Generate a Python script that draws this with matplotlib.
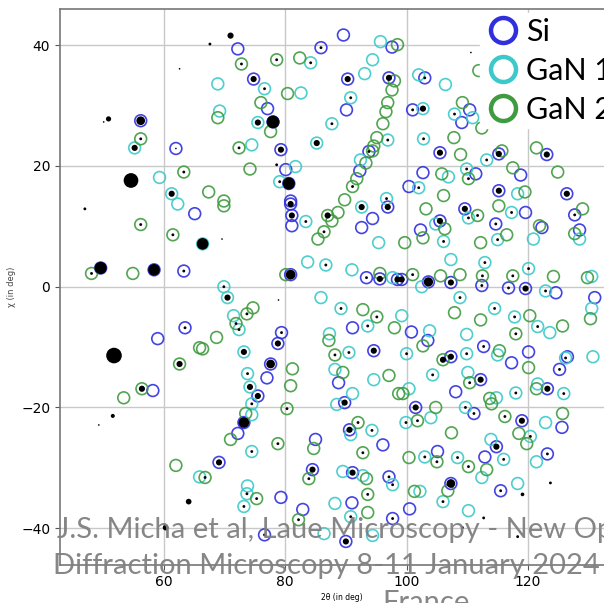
import matplotlib
matplotlib.use("Agg")
import matplotlib.pyplot as plt
from matplotlib.lines import Line2D

# simulated Laue spots (2theta, chi) in degrees
si_2theta = [56.2, 62.0, 54.6, 89.6, 72.2, 85.9, 74.8, 90.3, 97.1, 97.6, 90.1, 77.1, 78.0, 79.3,
             93.8, 92.3, 80.1, 80.6, 80.9, 103.0, 101.0, 110.4, 109.1, 105.5, 115.2, 123.1, 118.8,
             102.7, 111.4, 100.4, 115.2, 126.4, 49.6, 58.4, 63.3, 65.1, 63.5, 59.0, 58.2, 51.8,
             80.9, 81.1, 81.1, 92.6, 94.4, 96.9, 80.9, 93.4, 95.6, 98.5, 91.1, 79.4, 78.8, 94.6,
             77.6, 77.0, 88.8, 75.5, 109.6, 119.6, 127.7, 102.3, 105.5, 114.7, 122.3, 128.5, 99.2,
             103.6, 107.3, 112.4, 116.8, 119.6, 124.6, 131.0, 100.8, 103.5, 112.7, 120.1, 126.5,
             107.3, 117.3, 125.2, 112.2, 123.2, 108.1, 89.8, 73.2, 72.2, 69.1, 85.0, 90.6, 96.1,
             84.5, 91.1, 97.1, 79.3, 82.9, 91.0, 97.7, 76.6, 90.0, 101.5, 111.1, 119.0, 125.6,
             114.8, 123.2, 105.1, 112.9, 107.3, 115.5, 100.5]
si_chi = [27.5, 22.9, 17.6, 41.7, 39.4, 39.6, 34.4, 34.4, 34.6, 39.7, 29.3, 29.5, 27.3, 22.7,
          22.4, 19.2, 19.4, 17.1, 14.2, 34.6, 29.3, 29.3, 27.2, 22.2, 22.0, 21.9, 18.5,
          18.9, 18.7, 16.6, 15.9, 15.4, 3.1, 2.8, 2.6, 12.1, -6.8, -8.6, -17.2, -11.4,
          13.7, 11.8, 10.1, 9.8, 11.3, 13.2, 2.0, 1.5, 1.3, 1.2, -6.8, -7.6, -9.4, -10.6,
          -12.8, -15.1, -15.9, -18.1, 12.9, 12.3, 11.9, 9.4, 10.9, 10.4, 9.8, 9.4, 1.2,
          0.8, 0.7, 0.2, -0.2, -0.3, -1.0, -1.8, -7.5, -8.9, -9.9, -10.8, -11.6,
          -11.6, -12.6, -13.7, -15.4, -16.9, -17.4, -19.2, -22.5, -24.3, -29.1, -25.3, -23.7, -26.2,
          -30.3, -30.8, -31.5, -34.9, -36.9, -35.8, -38.4, -41.1, -42.2, -20.0, -21.0, -22.2, -23.3,
          -26.5, -27.7, -27.3, -28.2, -32.6, -33.8, -36.8]

gan1_2theta = [55.2, 59.3, 61.3, 95.7, 84.2, 94.4, 68.9, 76.6, 82.6, 93.1, 90.8, 69.2, 75.5, 87.7,
               96.9, 74.5, 85.2, 92.4, 81.7, 79.1, 96.7, 102.0, 106.4, 102.7, 107.9, 110.9, 102.8,
               113.2, 106.9, 109.9, 102.0, 118.3, 62.3, 83.4, 92.6, 95.4, 66.4, 83.7, 86.7, 91.0,
               97.7, 69.9, 70.5, 85.9, 71.5, 72.4, 89.2, 93.6, 87.3, 90.5, 73.2, 73.8, 88.2, 94.6,
               74.2, 91.1, 110.2, 117.3, 104.8, 106.1, 115.0, 120.9, 128.5, 107.3, 112.9, 120.1,
               102.5, 122.9, 130.5, 108.8, 114.5, 117.8, 130.5, 121.6, 123.6, 99.2, 103.8, 109.9,
               100.0, 115.0, 126.2, 130.7, 109.9, 104.3, 110.1, 121.6, 118.0, 125.9, 100.4, 114.8,
               65.9, 74.5, 88.5, 74.5, 74.5, 90.8, 94.3, 89.5, 92.8, 97.7, 73.8, 73.7, 73.2, 88.2,
               90.8, 86.4, 94.4, 109.7, 99.9, 104.0, 122.9, 120.4, 113.9, 121.4, 103.0, 108.4,
               116.0, 112.4, 118.3, 106.0, 110.2, 102.2]
gan1_chi = [23.0, 18.1, 15.4, 40.6, 37.1, 37.6, 33.6, 32.8, 32.1, 35.3, 31.3, 29.1, 27.2, 27.0,
            24.3, 23.5, 23.8, 21.0, 19.9, 17.4, 14.6, 35.1, 33.5, 29.5, 28.6, 28.0, 24.5,
            21.0, 18.2, 19.5, 16.4, 15.4, 13.7, 10.8, 13.2, 7.3, 7.1, 4.1, 3.6, 2.8,
            1.5, 0.0, -1.8, -1.8, -4.8, -7.1, -3.6, -6.5, -7.8, -10.9, -10.8, -14.4, -13.7, -15.4,
            -16.6, -17.7, 11.4, 12.3, 10.4, 7.5, 7.8, 7.9, 7.9, 4.5, 4.0, 3.0,
            0.0, -0.7, 1.7, -1.8, -3.6, -5.0, -3.6, -6.6, -7.6, -4.8, -7.3, -7.9,
            -11.1, -11.3, -11.8, -11.6, -11.1, -14.6, -14.2, -16.1, -17.6, -17.7, -16.9, -18.4,
            -31.5, -19.4, -19.5, -21.2, -27.3, -24.5, -23.8, -30.6, -31.3, -32.8, -33.0, -34.3, -36.4, -35.9,
            -38.1, -40.9, -41.2, -20.0, -22.5, -21.7, -22.5, -24.8, -25.3, -29.0, -28.2, -28.3,
            -28.6, -31.6, -32.6, -35.6, -37.1, -33.9]

gan2_2theta = [56.2, 63.3, 98.5, 72.8, 78.6, 82.4, 80.4, 98.0, 97.6, 76.0, 68.9, 77.6, 96.9, 96.6,
               96.1, 95.1, 94.6, 72.4, 94.4, 93.3, 74.2, 91.8, 91.1, 67.4, 89.8, 69.9, 109.2, 112.4,
               107.8, 108.9, 115.7, 121.4, 117.5, 105.8, 110.2, 124.9, 106.1, 119.5, 111.9, 56.2,
               61.5, 48.1, 54.9, 65.9, 62.6, 56.4, 53.4, 69.9, 87.0, 88.7, 87.7, 86.4, 85.4, 80.1,
               95.6, 74.7, 73.7, 71.9, 92.8, 95.1, 98.0, 68.7, 66.4, 87.2, 88.2, 81.2, 80.9, 89.5,
               97.1, 98.7, 103.2, 111.7, 115.2, 129.0, 102.7, 106.3, 99.7, 116.5, 112.2, 121.9,
               127.7, 101.0, 105.6, 108.8, 112.5, 117.5, 124.2, 129.8, 107.9, 112.2, 120.3, 130.3,
               125.7, 102.7, 118.0, 115.3, 106.0, 120.1, 110.4, 121.4, 99.4, 113.7, 62.0, 80.3,
               73.5, 71.0, 78.8, 66.8, 84.7, 92.0, 92.8, 83.9, 93.4, 75.3, 93.6, 82.2, 93.6, 104.8,
               114.0, 101.8, 116.2, 125.7, 107.4, 118.5, 119.8, 100.4, 105.0, 110.2, 113.2, 106.8,
               101.3]
gan2_chi = [24.5, 19.0, 40.1, 36.9, 37.6, 37.9, 32.0, 34.1, 32.6, 30.5, 28.0, 25.7, 30.5, 29.0,
            27.0, 24.7, 23.3, 23.0, 22.5, 20.5, 19.5, 17.9, 16.6, 15.7, 14.4, 14.2, 30.5, 26.3,
            24.7, 21.9, 22.5, 23.0, 19.7, 18.7, 17.9, 19.0, 15.1, 15.7, 35.8, 10.3,
            8.6, 2.2, 2.2, -10.1, -12.8, -16.9, -18.4, 13.4, 11.8, 12.3, 10.9, 9.1, 7.9, 2.0,
            2.2, -3.5, -4.5, -6.1, -3.8, -5.0, -6.8, -8.4, -10.3, -8.9, -11.3, -13.6, -16.4, -14.2,
            -14.7, -17.7, 12.9, 11.8, 13.4, 12.9, 8.1, 9.6, 7.3, 8.6, 7.3, 10.1,
            8.8, 2.0, 1.8, 2.0, 1.8, 1.8, 1.7, 1.5, -4.3, -5.5, -4.8, -5.3,
            -6.5, -9.8, -7.8, -10.6, -12.1, -13.4, -15.9, -16.9, -17.7, -18.5, -29.6, -20.2,
            -21.0, -25.3, -26.0, -31.6, -26.8, -22.5, -27.5, -31.8, -31.8, -35.1, -34.4, -38.6, -37.4, -20.0,
            -19.4, -22.2, -21.5, -21.0, -24.2, -24.3, -26.0, -28.3, -29.0, -29.8, -30.3, -33.8,
            -33.9]

# measured spots: position and relative intensity
exp_2theta = [50.9, 50.1, 62.6, 71.0, 67.6, 47.0, 69.6, 78.9, 78.6, 51.6, 49.3, 64.1, 60.3, 123.7,
              119.1, 112.7, 109.2, 118.3, 110.6,
              56.2, 62.0, 54.6, 85.9, 74.8, 90.3, 97.1, 78.0, 79.3, 93.8, 80.6, 103.0, 101.0, 105.5,
              115.2, 123.1, 115.2, 126.4, 49.6, 58.4, 63.3, 63.5, 51.8, 80.9, 81.1, 96.9, 80.9,
              93.4, 95.6, 98.5, 79.4, 78.8, 94.6, 77.6, 75.5, 109.6, 127.7, 105.5, 114.7, 99.2,
              103.6, 107.3, 112.4, 116.8, 119.6, 112.7, 107.3, 125.2, 112.2, 123.2, 89.8, 73.2,
              69.1, 90.6, 84.5, 91.1, 97.1, 97.7, 76.6, 90.0, 101.5, 111.1, 119.0, 114.8, 123.2,
              107.3, 115.5,
              55.2, 61.3, 84.2, 76.6, 90.8, 75.5, 87.7, 96.9, 85.2, 79.1, 96.7, 102.7, 107.9, 102.8,
              113.2, 109.9, 102.0, 83.4, 92.6, 66.4, 86.7, 69.9, 70.5, 72.4, 89.2, 93.6, 90.5, 73.2,
              73.8, 74.2, 110.2, 117.3, 106.1, 115.0, 112.9, 120.1, 122.9, 108.8, 114.5, 117.8,
              121.6, 100.0, 126.2, 109.9, 104.3, 118.0, 125.9, 74.5, 74.5, 94.3, 97.7, 73.7, 73.2,
              90.8, 109.7, 99.9, 120.4, 103.0, 108.4, 116.0, 106.0,
              56.2, 63.3, 72.8, 78.6, 72.4, 91.1, 110.2, 56.2, 61.5, 48.1, 62.6, 56.4, 87.0, 86.4,
              73.7, 71.9, 95.1, 88.2, 111.7, 101.0, 112.5, 117.5, 118.0, 106.0, 110.4, 80.3, 78.8,
              66.8, 92.0, 92.8, 83.9, 75.3, 93.6, 82.2, 101.8, 116.2, 105.0, 110.2]
exp_chi = [27.8, 27.3, 36.1, 41.6, 40.2, 12.9, 7.9, -2.2, 20.2, -21.4, -22.9, -35.6, -39.9, -32.5,
           -34.4, -38.3, -39.9, -41.4, 38.8,
           27.5, 22.9, 17.6, 39.6, 34.4, 34.4, 34.6, 27.3, 22.7, 22.4, 17.1, 34.6, 29.3, 22.2,
           22.0, 21.9, 15.9, 15.4, 3.1, 2.8, 2.6, -6.8, -11.4, 13.7, 11.8, 13.2, 2.0,
           1.5, 1.3, 1.2, -7.6, -9.4, -10.6, -12.8, -18.1, 12.9, 11.9, 10.9, 10.4, 1.2,
           0.8, 0.7, 0.2, -0.2, -0.3, -9.9, -11.6, -13.7, -15.4, -16.9, -19.2, -22.5,
           -29.1, -23.7, -30.3, -30.8, -31.5, -38.4, -41.1, -42.2, -20.0, -21.0, -22.2, -26.5, -27.7,
           -32.6, -33.8,
           23.0, 15.4, 37.1, 32.8, 31.3, 27.2, 27.0, 24.3, 23.8, 17.4, 14.6, 29.5, 28.6, 24.5,
           21.0, 19.5, 16.4, 10.8, 13.2, 7.1, 3.6, 0.0, -1.8, -7.1, -3.6, -6.5, -10.9, -10.8,
           -14.4, -16.6, 11.4, 12.3, 7.5, 7.8, 4.0, 3.0, -0.7, -1.8, -3.6, -5.0,
           -6.6, -11.1, -11.8, -11.1, -14.6, -17.6, -17.7, -19.4, -27.3, -23.8, -32.8, -34.3, -36.4,
           -38.1, -20.0, -22.5, -24.8, -28.2, -28.3, -28.6, -35.6,
           24.5, 19.0, 36.9, 37.6, 23.0, 16.6, 17.9, 10.3, 8.6, 2.2, -12.8, -16.9, 11.8, 9.1,
           -4.5, -6.1, -5.0, -11.3, 11.8, 2.0, 1.8, 1.8, -7.8, -12.1, -15.9, -20.2, -26.0,
           -31.6, -22.5, -27.5, -31.8, -35.1, -34.4, -38.6, -22.2, -21.5, -29.0, -29.8]
exp_intensity = [10, 1, 1, 14, 3, 3, 1, 1, 3, 6, 1, 12, 12, 3,
                 5, 3, 3, 3, 1,
                 28, 1, 80, 3, 14, 14, 14, 60, 14, 3, 55, 3, 3, 14,
                 14, 14, 14, 14, 55, 50, 3, 3, 90, 14, 14, 14, 35,
                 3, 14, 14, 3, 14, 14, 28, 14, 14, 3, 14, 3, 14,
                 32, 14, 3, 3, 14, 3, 14, 3, 14, 14, 14, 42,
                 14, 14, 14, 14, 3, 3, 3, 14, 14, 3, 14, 14, 3,
                 28, 3,
                 14, 14, 3, 3, 3, 14, 3, 3, 14, 3, 3, 14, 3, 3,
                 3, 3, 3, 3, 14, 50, 3, 3, 14, 3, 3, 3, 3, 14,
                 3, 14, 3, 3, 3, 3, 3, 3, 3, 3, 3, 3,
                 3, 3, 3, 3, 3, 3, 3, 3, 3, 3, 3, 3, 3,
                 3, 3, 3, 3, 3, 3, 3, 3,
                 3, 3, 3, 3, 3, 3, 3, 3, 3, 3, 14, 14, 14, 3,
                 3, 3, 3, 3, 3, 3, 3, 3, 3, 14, 3, 3, 3,
                 3, 3, 3, 3, 3, 3, 3, 3, 3, 3, 3]

series_labels = ["Si", "GaN 1", "GaN 2"]
series_colors = ["#2f2fe0", "#3cc9c9", "#3f9b3f"]

watermark_lines = ["J.S. Micha et al, Laue Microscopy - New Opportunities for",
                   "Diffraction Microscopy 8-11 January 2024 Les Houches,",
                   "France"]


def main():
    fig = plt.figure(figsize=(6.04, 6.03), dpi=100)
    ax = fig.add_axes([0.0993, 0.063, 0.9758, 0.922])

    ring_sets = [(si_2theta, si_chi), (gan1_2theta, gan1_chi), (gan2_2theta, gan2_chi)]
    for (tt, chi), color in zip(ring_sets, series_colors):
        ax.scatter(tt, chi, s=72, facecolors="none", edgecolors=color,
                   linewidths=1.2, alpha=0.9, zorder=3)

    ax.scatter(exp_2theta, exp_chi, s=[v * 1.4 for v in exp_intensity],
               c="black", linewidths=0, zorder=4)

    ax.set_xlim(42.9, 140)
    ax.set_ylim(-46.1, 46.0)
    ax.set_xticks([60, 80, 100, 120])
    ax.set_yticks([-40, -20, 0, 20, 40])
    ax.tick_params(labelsize=10, color="#555555")
    ax.grid(True, color="#c8c8c8", linewidth=1.0)
    ax.set_axisbelow(True)
    for side in ["left", "bottom", "top", "right"]:
        ax.spines[side].set_color("#777777")
        ax.spines[side].set_linewidth(1.2)

    ax.set_xlabel("2θ (in deg)", fontsize=5.5, labelpad=2)
    ax.xaxis.set_label_coords((320 + 22 - 60) / (0.9758 * 604), -0.05)
    ax.set_ylabel("χ (in deg)", fontsize=6, color="#444444")
    ax.yaxis.set_label_coords(-0.075, 0.5)

    handles = [Line2D([], [], marker="o", ls="", mfc="none", mec=c, ms=18, mew=3.2)
               for c in series_colors]
    leg = fig.legend(handles, series_labels, loc="upper left",
                     bbox_to_anchor=(480 / 604, 1 - 13 / 603),
                     prop={"family": "Lato", "size": 22},
                     frameon=True, facecolor="white", edgecolor="white", framealpha=1,
                     borderpad=0.15, labelspacing=0.36, handlelength=1.2,
                     handletextpad=0.15, borderaxespad=0)
    leg.set_zorder(10)

    tops = [538, 574, 611]
    lefts = [57, 53, 382]
    for text, x, y in zip(watermark_lines, lefts, tops):
        fig.text(x / 604, 1 - y / 603, text, fontsize=21, family="Lato",
                 color="#808080", alpha=0.95, ha="left", va="baseline", zorder=20)

    fig.savefig("out.png", dpi=100)


if __name__ == "__main__":
    main()
